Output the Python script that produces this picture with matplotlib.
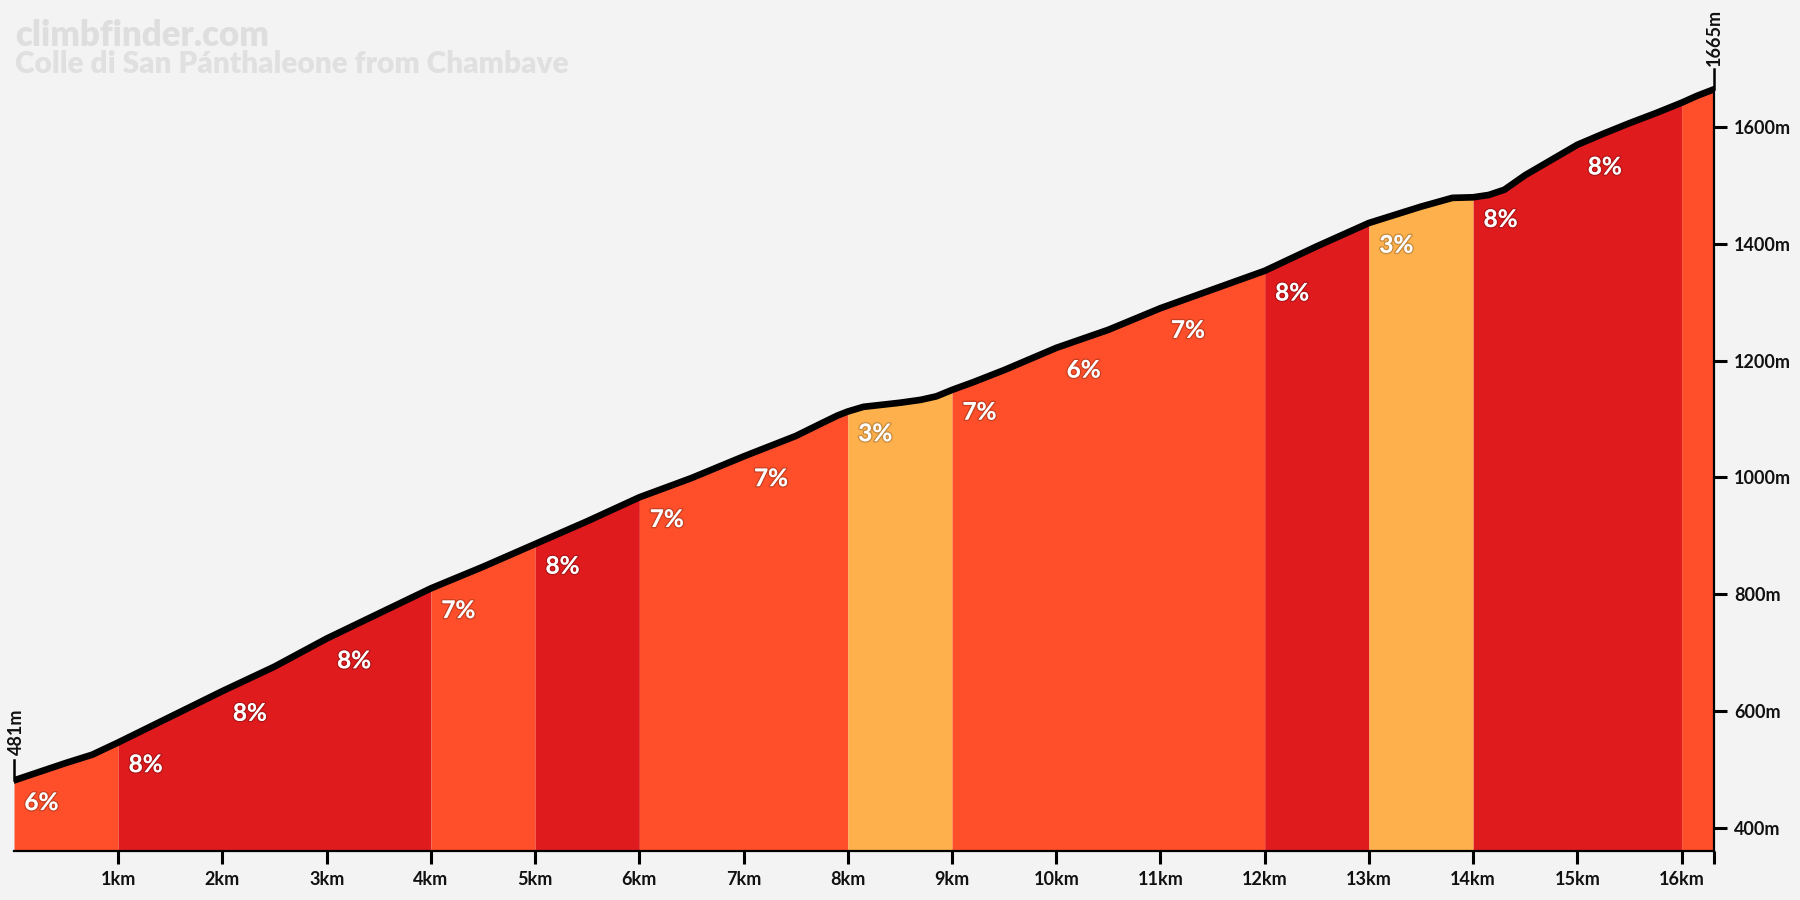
import numpy as np
import matplotlib.pyplot as plt
import matplotlib.patheffects as pe

plt.rcParams['font.family'] = ['Lato', 'DejaVu Sans']

# profile (km, m)
dist = [0, 0.25, 0.5, 0.75, 1, 1.5, 2, 2.5, 3, 3.5, 4, 4.5, 5, 5.5, 6, 6.5,
        7, 7.5, 7.75, 7.9, 8, 8.15, 8.5, 8.7, 8.85, 9, 9.2, 9.5, 10, 10.5,
        11, 11.5, 12, 12.5, 13, 13.5, 13.8, 14, 14.15, 14.3, 14.5, 14.75,
        15, 15.25, 15.5, 15.75, 16, 16.15, 16.31]
elev = [481, 496, 511, 525, 546, 590, 634, 676, 724, 767, 810, 847, 886,
        925, 966, 999, 1036, 1071, 1093, 1106, 1113, 1121, 1128, 1133, 1139,
        1150, 1163, 1184, 1222, 1253, 1290, 1322, 1354, 1396, 1436, 1464,
        1479, 1480, 1484, 1493, 1518, 1544, 1570, 1589, 1607, 1624, 1642,
        1654, 1665]

seg_start = list(range(17))
seg_end = list(range(1, 17)) + [16.31]
grades = [6, 8, 8, 8, 7, 8, 7, 7, 3, 7, 6, 7, 8, 3, 8, 8, 7]
grade_labels = ['6%', '8%', '8%', '8%', '7%', '8%', '7%', '7%', '3%', '7%',
                '6%', '7%', '8%', '3%', '8%', '8%', '']

ytick_vals = [400, 600, 800, 1000, 1200, 1400, 1600]
xtick_vals = list(range(1, 17)) + [16.31]
xtick_labels = [f'{k}km' for k in range(1, 17)] + ['']

title = 'climbfinder.com'
subtitle = 'Colle di San Pánthaleone from Chambave'


def grade_color(g):
    if g <= 4:
        return '#fdb04c'
    if g <= 7:
        return '#fe4f2a'
    return '#e01b1e'


BG = '#f3f3f3'
fig = plt.figure(figsize=(18, 9), dpi=100, facecolor=BG)
ax = fig.add_axes([0.00778, 0.0548, 0.9444, 0.9452])
ax.set_facecolor(BG)

x = np.array(dist)
y = np.array(elev)
y0 = 360.6
ax.set_xlim(0, 16.31)
ax.set_ylim(y0, 1818)

# merge neighbouring segments of the same colour so no seams show
runs = []
for a, b, g in zip(seg_start, seg_end, grades):
    c = grade_color(g)
    if runs and runs[-1][2] == c:
        runs[-1][1] = b
    else:
        runs.append([a, b, c])
for a, b, c in runs:
    m = (x >= a) & (x <= b)
    ax.fill_between(x[m], y0, y[m], color=c, lw=0, zorder=1)

for a, lab in zip(seg_start, grade_labels):
    if lab:
        e0 = np.interp(a, x, y)
        ax.text(a + 0.1, e0 - 38, lab, ha='left', va='center', color='white',
                fontsize=17.5, fontweight='bold', zorder=4,
                path_effects=[pe.withStroke(linewidth=2, foreground=(0, 0, 0, 0.2))])

ax.plot(x, y, color='black', lw=4.8, solid_capstyle='round',
        solid_joinstyle='round', zorder=3)

# start / finish markers
ax.plot([0, 0], [481, 516], color='black', lw=1.8, clip_on=False, zorder=3)
ax.text(0.02, 524, '481m', rotation=90, ha='center', va='bottom',
        fontsize=13, fontweight='bold', color='#111111')
ax.plot([16.31, 16.31], [1665, 1699], color='black', lw=1.8, clip_on=False, zorder=3)
ax.text(16.31, 1705, '1665m', rotation=90, ha='center', va='bottom',
        fontsize=13, fontweight='bold', color='#111111', clip_on=False)

for s in ['top', 'left']:
    ax.spines[s].set_visible(False)
ax.spines['bottom'].set_linewidth(1.6)
ax.spines['right'].set_linewidth(1.6)
ax.spines['right'].set_bounds(y0, 1665)
ax.spines['right'].set_zorder(3)

ax.yaxis.tick_right()
ax.set_yticks(ytick_vals)
ax.set_yticklabels([f'{v}m' for v in ytick_vals])
ax.set_xticks(xtick_vals)
ax.set_xticklabels(xtick_labels)
ax.tick_params(axis='both', length=9.5, width=2.2, color='black',
               labelsize=13, labelcolor='#111111', pad=5)
for lab in ax.get_xticklabels() + ax.get_yticklabels():
    lab.set_fontweight('bold')

fig.text(15 / 1800, 1 - 46 / 900, title, fontsize=25, fontweight='heavy',
         color='#dedede', ha='left', va='baseline')
fig.text(15 / 1800, 1 - 73 / 900, subtitle, fontsize=21.5, fontweight='heavy',
         color='#e0e0e0', ha='left', va='baseline')

fig.savefig('out.png', dpi=100, facecolor=BG)
